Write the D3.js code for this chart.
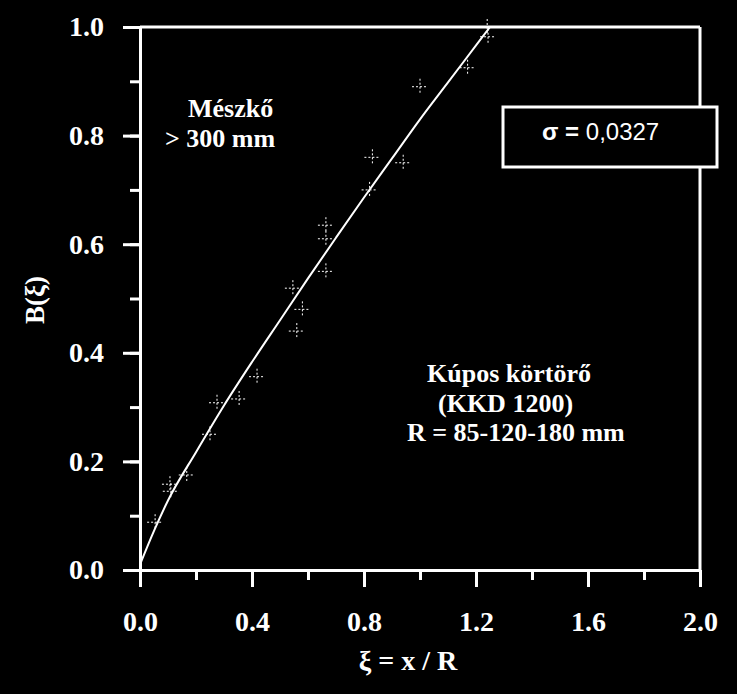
<!DOCTYPE html>
<html>
<head>
<meta charset="utf-8">
<script src="https://cdn.jsdelivr.net/npm/d3@7"></script>
<style>
  body { margin: 0; background: #000; }
  svg { display: block; }
</style>
</head>
<body>
<script>
var pointXi = [0.054, 0.107, 0.11, 0.167, 0.25, 0.275, 0.354, 0.418, 0.546, 0.56, 0.58, 0.664, 0.664, 0.664, 0.82, 0.83, 0.94, 1.0, 1.17, 1.243, 1.24];
var pointB  = [0.088, 0.158, 0.145, 0.175, 0.25, 0.308, 0.315, 0.356, 0.519, 0.44, 0.48, 0.55, 0.61, 0.635, 0.70, 0.76, 0.75, 0.89, 0.925, 0.982, 1.0];

// fitted curve
var curveXi = [0, 0.05, 0.1, 0.2, 0.3, 0.4, 0.5, 0.6, 0.7, 0.8, 0.9, 1.0, 1.1, 1.2, 1.25];
var curveB  = [0.01, 0.072, 0.128, 0.217, 0.303, 0.383, 0.46, 0.537, 0.612, 0.686, 0.758, 0.83, 0.898, 0.966, 1.0];

var xMajor = [0, 0.4, 0.8, 1.2, 1.6, 2.0];
var xMinor = [0, 0.2, 0.4, 0.6, 0.8, 1.0, 1.2, 1.4, 1.6, 1.8, 2.0];
var yMajor = [0, 0.2, 0.4, 0.6, 0.8, 1.0];
var yMinor = [0, 0.1, 0.2, 0.3, 0.4, 0.5, 0.6, 0.7, 0.8, 0.9, 1.0];

var width = 737, height = 694;
var pLeft = 140, pRight = 700, pTop = 27, pBottom = 570;

var svg = d3.select("body").append("svg")
  .attr("width", width)
  .attr("height", height)
  .style("background", "#000");

var x = d3.scaleLinear().domain([0, 2]).range([pLeft, pRight]);
var y = d3.scaleLinear().domain([0, 1]).range([pBottom, pTop]);

var serif = "'Liberation Serif', 'Times New Roman', serif";
var sans = "'Liberation Sans', Arial, sans-serif";

// frame top and right
svg.append("line").attr("x1", pLeft).attr("x2", pRight).attr("y1", pTop).attr("y2", pTop)
  .attr("stroke", "#fff").attr("stroke-width", 3);
svg.append("line").attr("x1", pRight).attr("x2", pRight).attr("y1", pTop).attr("y2", pBottom)
  .attr("stroke", "#fff").attr("stroke-width", 3);

// minor ticks
svg.append("g").attr("transform", "translate(0," + pBottom + ")")
  .call(d3.axisBottom(x).tickValues(xMinor).tickSize(10).tickFormat(""))
  .call(g => g.select(".domain").remove());
svg.append("g").attr("transform", "translate(" + pLeft + ",0)")
  .call(d3.axisLeft(y).tickValues(yMinor).tickSize(10).tickFormat(""))
  .call(g => g.select(".domain").remove());

// major axes
svg.append("g").attr("transform", "translate(0," + pBottom + ")")
  .call(d3.axisBottom(x).tickValues(xMajor).tickSize(17).tickSizeOuter(0).tickPadding(24).tickFormat(d3.format(".1f")));
svg.append("g").attr("transform", "translate(" + pLeft + ",0)")
  .call(d3.axisLeft(y).tickValues(yMajor).tickSize(17).tickSizeOuter(0).tickPadding(19).tickFormat(d3.format(".1f")));

svg.selectAll(".tick line, .domain").attr("stroke", "#fff").attr("stroke-width", 3);
svg.selectAll(".tick text")
  .attr("fill", "#fff")
  .style("font-family", serif)
  .style("font-weight", "bold")
  .style("font-size", "28px");

// data points as plus markers
var pts = pointXi.map(function(d, i) { return [d, pointB[i]]; });
var marks = svg.append("g").selectAll("g").data(pts).enter().append("g")
  .attr("transform", function(d) { return "translate(" + x(d[0]) + "," + y(d[1]) + ")"; });
marks.append("line").attr("x1", -8).attr("x2", 8).attr("y1", 0).attr("y2", 0)
  .attr("stroke", "#fff").attr("stroke-width", 1).attr("stroke-dasharray", "2,2");
marks.append("line").attr("x1", 0).attr("x2", 0).attr("y1", -8).attr("y2", 8)
  .attr("stroke", "#fff").attr("stroke-width", 1).attr("stroke-dasharray", "2,2");

// fitted curve
var curve = curveXi.map(function(d, i) { return [d, curveB[i]]; });
svg.append("path")
  .datum(curve)
  .attr("fill", "none")
  .attr("stroke", "#fff")
  .attr("stroke-width", 2)
  .attr("d", d3.line().x(function(d) { return x(d[0]); }).y(function(d) { return y(d[1]); }).curve(d3.curveMonotoneX));

// axis titles
svg.append("text")
  .attr("transform", "translate(44,300) rotate(-90)")
  .attr("text-anchor", "middle")
  .attr("fill", "#fff")
  .style("font-family", serif).style("font-weight", "bold").style("font-size", "27px")
  .text("B(ξ)");
svg.append("text")
  .attr("x", 408).attr("y", 670)
  .attr("text-anchor", "middle")
  .attr("fill", "#fff")
  .style("font-family", serif).style("font-weight", "bold").style("font-size", "28px")
  .text("ξ = x / R");

// annotations
function note(tx, ty, s) {
  svg.append("text").attr("x", tx).attr("y", ty).attr("fill", "#fff")
    .style("font-family", serif).style("font-weight", "bold").style("font-size", "26px")
    .text(s);
}
note(188, 117, "Mészkő");
note(165, 147, "> 300 mm");
note(427, 382, "Kúpos körtörő");
note(438, 412, "(KKD 1200)");
note(407, 441, "R = 85-120-180 mm");

// sigma box
svg.append("rect").attr("x", 503).attr("y", 107).attr("width", 214).attr("height", 60)
  .attr("fill", "#000").attr("stroke", "#fff").attr("stroke-width", 3);
var sig = svg.append("text").attr("x", 542).attr("y", 140).attr("fill", "#fff")
  .style("font-family", sans).style("font-size", "24px");
sig.append("tspan").style("font-weight", "bold").text("σ = ");
sig.append("tspan").text("0,0327");
</script>
</body>
</html>
